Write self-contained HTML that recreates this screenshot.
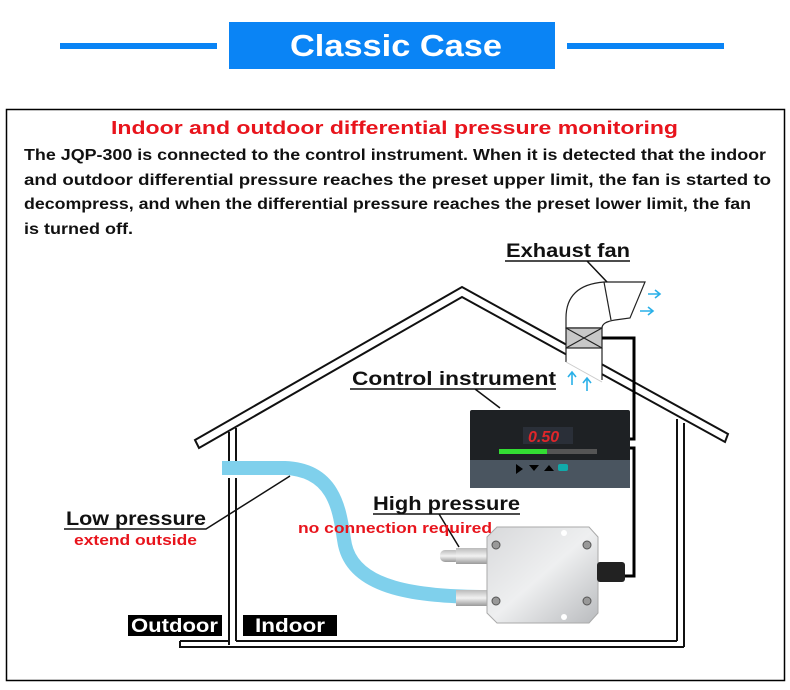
<!DOCTYPE html>
<html><head><meta charset="utf-8"><style>
html,body{margin:0;padding:0;background:#fff;width:790px;height:690px;overflow:hidden}
svg{display:block}
text{font-family:"Liberation Sans",sans-serif;font-weight:bold}
</style></head><body>
<svg width="790" height="690" viewBox="0 0 790 690" xmlns="http://www.w3.org/2000/svg">
<defs>
<linearGradient id="met" x1="0" y1="0" x2="1" y2="1"><stop offset="0" stop-color="#d8d9db"/><stop offset="0.5" stop-color="#eeeff0"/><stop offset="1" stop-color="#b9bbbe"/></linearGradient>
<linearGradient id="thr" x1="0" y1="0" x2="0" y2="1"><stop offset="0" stop-color="#bbb"/><stop offset="0.5" stop-color="#f2f2f2"/><stop offset="1" stop-color="#999"/></linearGradient>
</defs>
<rect x="60" y="43" width="157" height="6" fill="#0a84f5"/>
<rect x="567" y="43" width="157" height="6" fill="#0a84f5"/>
<rect x="229" y="22" width="326" height="47" fill="#0a84f5"/>
<text x="290" y="56" fill="#fff" font-size="31" textLength="212" lengthAdjust="spacingAndGlyphs">Classic Case</text>
<rect x="6.5" y="109.5" width="778" height="571" fill="#fff" stroke="#000" stroke-width="1.5"/>
<text x="111" y="134" fill="#e8141c" font-size="18.5" textLength="567" lengthAdjust="spacingAndGlyphs">Indoor and outdoor differential pressure monitoring</text>
<g font-size="15.5" fill="#111">
<text x="24" y="160" textLength="742" lengthAdjust="spacingAndGlyphs">The JQP-300 is connected to the control instrument. When it is detected that the indoor</text>
<text x="24" y="185" textLength="747" lengthAdjust="spacingAndGlyphs">and outdoor differential pressure reaches the preset upper limit, the fan is started to</text>
<text x="24" y="209" textLength="727" lengthAdjust="spacingAndGlyphs">decompress, and when the differential pressure reaches the preset lower limit, the fan</text>
<text x="24" y="234" textLength="109" lengthAdjust="spacingAndGlyphs">is turned off.</text>
</g>
<g fill="none" stroke="#111" stroke-width="2">
<path d="M195,440 L462,287 L728,434 L725,442 L462,297 L199,448 Z" fill="#fff"/>
<path d="M229,432 L229,462 M236,428 L236,462 M229,478 L229,645 M236,478 L236,641"/>
<path d="M677,419 L677,641 M684,423 L684,647"/>
<path d="M180,641 L229,641 M236,641 L677,641 M180,641 L180,647 L684,647"/>
</g>
<polygon points="566,346 602,346 602,382 566,366" fill="#fff"/>
<g stroke="#222" stroke-width="1.2" fill="#fff">
<path d="M566,318 Q566,285 604,282 L645,282 L630,318 L615,320 Q602,322 602,328 L566,328 Z"/>
<path d="M604,282 L611,320"/>
<rect x="566" y="328" width="36" height="20" fill="#c8c8c8"/>
<path d="M566,328 L602,348 M602,328 L566,348"/>
<path d="M566,348 L566,362 M602,348 L602,380" fill="none"/>
</g>
<path d="M566,362 L602,382" stroke="#ccc" stroke-width="1"/>
<g stroke="#2ab0e8" stroke-width="1.6" fill="none">
<path d="M648,294 L660,294 M655,290 L660,294 L655,298"/>
<path d="M640,311 L653,311 M648,307 L653,311 L648,315"/>
<path d="M572,385 L572,372 M568,377 L572,372 L576,377"/>
<path d="M587,391 L587,378 M583,383 L587,378 L591,383"/>
</g>
<g stroke="#000" stroke-width="3" fill="none">
<path d="M602,338 L634,338 L634,439 L628,439"/>
<path d="M628,448 L634,448 L634,576 L625,576"/>
</g>
<rect x="470" y="410" width="160" height="78" rx="2" fill="#1e2124"/>
<rect x="470" y="460" width="160" height="28" fill="#4a5560"/>
<rect x="523" y="427" width="50" height="17" fill="#2a2f38"/>
<text x="528" y="442" font-size="16" fill="#e0262a" font-style="italic">0.50</text>
<rect x="499" y="449" width="48" height="5" fill="#33dd33"/>
<rect x="547" y="449" width="50" height="5" fill="#555"/>
<path d="M516,464 L523,469 L516,474 Z M529,465 L539,465 L534,471 Z M544,471 L554,471 L549,465 Z" fill="#000"/>
<rect x="558" y="464" width="10" height="7" rx="2" fill="#1aa"/>
<path d="M222,468 L285,468 C340,470 340,520 345,545 C355,590 420,596 480,597" fill="none" stroke="#7fd0ec" stroke-width="14"/>
<rect x="440" y="550" width="20" height="12" rx="5" fill="url(#thr)"/>
<rect x="456" y="548" width="32" height="16" fill="url(#thr)"/>
<rect x="456" y="590" width="32" height="16" fill="url(#thr)"/>
<path d="M497,527 L589,527 L598,537 L598,613 L589,623 L497,623 L487,613 L487,537 Z" fill="url(#met)" stroke="#aaa"/>
<circle cx="496" cy="545" r="4" fill="#999" stroke="#555"/><circle cx="587" cy="545" r="4" fill="#999" stroke="#555"/>
<circle cx="496" cy="601" r="4" fill="#999" stroke="#555"/><circle cx="587" cy="601" r="4" fill="#999" stroke="#555"/>
<circle cx="564" cy="533" r="3" fill="#fff"/><circle cx="564" cy="617" r="3" fill="#fff"/>
<rect x="597" y="562" width="28" height="20" rx="3" fill="#222"/>
<g font-size="19" fill="#111">
<text x="506" y="257" textLength="124" lengthAdjust="spacingAndGlyphs">Exhaust fan</text>
<text x="352" y="385" textLength="204" lengthAdjust="spacingAndGlyphs">Control instrument</text>
<text x="66" y="525" textLength="140" lengthAdjust="spacingAndGlyphs">Low pressure</text>
<text x="373" y="510" textLength="147" lengthAdjust="spacingAndGlyphs">High pressure</text>
</g>
<g stroke="#111" stroke-width="1.5" fill="none">
<path d="M505,261 L630,261 M587,261 L607,282"/>
<path d="M350,389 L556,389 M475,389 L500,408"/>
<path d="M64,529 L206,529 L290,476"/>
<path d="M373,514 L520,514 M439,514 L459,547"/>
</g>
<g font-size="15" fill="#e8141c">
<text x="74" y="545" textLength="123" lengthAdjust="spacingAndGlyphs">extend outside</text>
<text x="298" y="533" textLength="194" lengthAdjust="spacingAndGlyphs">no connection required</text>
</g>
<rect x="128" y="615" width="94" height="21" fill="#000"/>
<rect x="243" y="615" width="94" height="21" fill="#000"/>
<g font-size="19" fill="#fff">
<text x="131" y="632" textLength="87" lengthAdjust="spacingAndGlyphs">Outdoor</text>
<text x="255" y="632" textLength="70" lengthAdjust="spacingAndGlyphs">Indoor</text>
</g>
</svg>
</body></html>
